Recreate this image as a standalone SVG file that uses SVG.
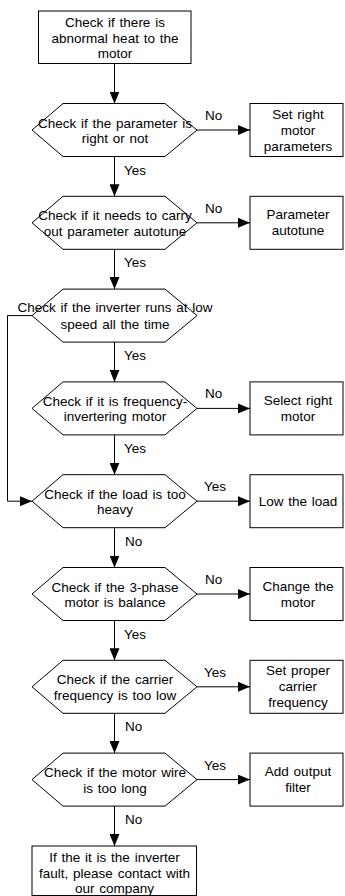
<svg xmlns="http://www.w3.org/2000/svg" width="345" height="896" viewBox="0 0 345 896">
<style>
.s{fill:#fff;stroke:#000;stroke-width:1}
.c{fill:none;stroke:#000;stroke-width:1}
text{font-family:"Liberation Sans",Arial,sans-serif;font-size:13.5px;fill:#000;word-spacing:1px}
.m{text-anchor:middle}
</style>
<defs>
<marker id="a" markerUnits="userSpaceOnUse" markerWidth="12" markerHeight="10" refX="12" refY="5" orient="auto">
<path d="M0,0 L12,5 L0,10 z" fill="#000"/>
</marker>
</defs>
<rect width="345" height="896" fill="#fff"/>
<g id="connectors">
<line class="c" x1="114.5" y1="63.5" x2="114.5" y2="103.5" marker-end="url(#a)"/>
<line class="c" x1="114.5" y1="156.5" x2="114.5" y2="196.3" marker-end="url(#a)"/>
<line class="c" x1="114.5" y1="249.3" x2="114.5" y2="289.1" marker-end="url(#a)"/>
<line class="c" x1="114.5" y1="342.1" x2="114.5" y2="381.9" marker-end="url(#a)"/>
<line class="c" x1="114.5" y1="434.9" x2="114.5" y2="474.7" marker-end="url(#a)"/>
<line class="c" x1="114.5" y1="527.7" x2="114.5" y2="567.5" marker-end="url(#a)"/>
<line class="c" x1="114.5" y1="620.5" x2="114.5" y2="660.3" marker-end="url(#a)"/>
<line class="c" x1="114.5" y1="713.3" x2="114.5" y2="753.1" marker-end="url(#a)"/>
<line class="c" x1="114.5" y1="806.1" x2="114.5" y2="846" marker-end="url(#a)"/>
<line class="c" x1="197" y1="130" x2="250" y2="130" marker-end="url(#a)"/>
<line class="c" x1="197" y1="222.8" x2="250" y2="222.8" marker-end="url(#a)"/>
<line class="c" x1="197" y1="408.4" x2="250" y2="408.4" marker-end="url(#a)"/>
<line class="c" x1="197" y1="501.2" x2="250" y2="501.2" marker-end="url(#a)"/>
<line class="c" x1="197" y1="594" x2="250" y2="594" marker-end="url(#a)"/>
<line class="c" x1="197" y1="686.8" x2="250" y2="686.8" marker-end="url(#a)"/>
<line class="c" x1="197" y1="779.6" x2="250" y2="779.6" marker-end="url(#a)"/>
<polyline class="c" points="32,315.6 7.5,315.6 7.5,501.2 32,501.2" marker-end="url(#a)"/>
<text x="205" y="120">No</text>
<text x="124" y="174.5">Yes</text>
<text x="205" y="212.8">No</text>
<text x="124" y="267.3">Yes</text>
<text x="124" y="360">Yes</text>
<text x="205" y="398.4">No</text>
<text x="124" y="452.9">Yes</text>
<text x="204" y="491.2">Yes</text>
<text x="125" y="546">No</text>
<text x="205" y="584">No</text>
<text x="124" y="638.5">Yes</text>
<text x="204" y="676.8">Yes</text>
<text x="125" y="731.3">No</text>
<text x="204" y="769.6">Yes</text>
<text x="125" y="824.1">No</text>
</g>
<g id="start">
<rect class="s" x="38.5" y="11" width="152.5" height="52.5"/>
<text class="m" x="115" y="27">Check if there is</text>
<text class="m" x="115" y="42.5">abnormal heat to the</text>
<text class="m" x="115" y="58">motor</text>
</g>
<g id="d1">
<polygon class="s" points="32,130 63,103.5 165,103.5 197,130 165,156.5 63,156.5"/>
<text class="m" x="115" y="127.5">Check if the parameter is</text>
<text class="m" x="115" y="143">right or not</text>
</g>
<g id="b1">
<rect class="s" x="250" y="103.5" width="93" height="53"/>
<text class="m" x="298" y="118.5">Set right</text>
<text class="m" x="298" y="134.5">motor</text>
<text class="m" x="298" y="150.5">parameters</text>
</g>
<g id="d2">
<polygon class="s" points="32,222.8 63,196.3 165,196.3 197,222.8 165,249.3 63,249.3"/>
<text class="m" x="115" y="220.3">Check if it needs to carry</text>
<text class="m" x="115" y="235.8">out parameter autotune</text>
</g>
<g id="b2">
<rect class="s" x="250" y="196.3" width="93" height="53"/>
<text class="m" x="298" y="219.3">Parameter</text>
<text class="m" x="298" y="235.3">autotune</text>
</g>
<g id="d3">
<polygon class="s" points="32,315.6 63,289.1 165,289.1 197,315.6 165,342.1 63,342.1"/>
<text class="m" x="115" y="311.5">Check if the inverter runs at low</text>
<text class="m" x="115" y="328.5">speed all the time</text>
</g>
<g id="d4">
<polygon class="s" points="32,408.4 63,381.9 165,381.9 197,408.4 165,434.9 63,434.9"/>
<text class="m" x="115" y="405.9">Check if it is frequency-</text>
<text class="m" x="115" y="421.4">invertering motor</text>
</g>
<g id="b3">
<rect class="s" x="250" y="381.9" width="93" height="53"/>
<text class="m" x="298" y="404.9">Select right</text>
<text class="m" x="298" y="420.9">motor</text>
</g>
<g id="d5">
<polygon class="s" points="32,501.2 63,474.7 165,474.7 197,501.2 165,527.7 63,527.7"/>
<text class="m" x="115" y="498.7">Check if the load is too</text>
<text class="m" x="115" y="514.2">heavy</text>
</g>
<g id="b4">
<rect class="s" x="250" y="474.7" width="93" height="53"/>
<text class="m" x="298" y="506">Low the load</text>
</g>
<g id="d6">
<polygon class="s" points="32,594 63,567.5 165,567.5 197,594 165,620.5 63,620.5"/>
<text class="m" x="115" y="591.5">Check if the 3-phase</text>
<text class="m" x="115" y="607">motor is balance</text>
</g>
<g id="b5">
<rect class="s" x="250" y="567.5" width="93" height="53"/>
<text class="m" x="298" y="590.5">Change the</text>
<text class="m" x="298" y="606.5">motor</text>
</g>
<g id="d7">
<polygon class="s" points="32,686.8 63,660.3 165,660.3 197,686.8 165,713.3 63,713.3"/>
<text class="m" x="115" y="684.3">Check if the carrier</text>
<text class="m" x="115" y="699.8">frequency is too low</text>
</g>
<g id="b6">
<rect class="s" x="250" y="660.3" width="93" height="53"/>
<text class="m" x="298" y="675.3">Set proper</text>
<text class="m" x="298" y="691.3">carrier</text>
<text class="m" x="298" y="707.3">frequency</text>
</g>
<g id="d8">
<polygon class="s" points="32,779.6 63,753.1 165,753.1 197,779.6 165,806.1 63,806.1"/>
<text class="m" x="115" y="777.1">Check if the motor wire</text>
<text class="m" x="115" y="792.6">is too long</text>
</g>
<g id="b7">
<rect class="s" x="250" y="753.1" width="93" height="53"/>
<text class="m" x="298" y="776.1">Add output</text>
<text class="m" x="298" y="792.1">filter</text>
</g>
<g id="end">
<rect class="s" x="32" y="846" width="164.5" height="49.5"/>
<text class="m" x="114.5" y="862">If the it is the inverter</text>
<text class="m" x="114.5" y="877.5">fault, please contact with</text>
<text class="m" x="114.5" y="893">our company</text>
</g>
</svg>
